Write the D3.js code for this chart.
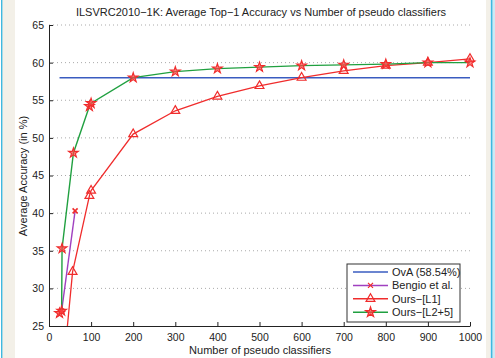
<!DOCTYPE html>
<html>
<head>
<meta charset="utf-8">
<script src="https://cdn.jsdelivr.net/npm/d3@7/dist/d3.min.js"></script>
<style>
  html, body { margin: 0; padding: 0; background: #fff; }
  svg { display: block; font-family: "Liberation Sans", Arial, sans-serif; }
</style>
</head>
<body>
<svg id="chart" width="495" height="358"></svg>
<script>
// values
const xTicks = [0, 100, 200, 300, 400, 500, 600, 700, 800, 900, 1000];
const yTicks = [25, 30, 35, 40, 45, 50, 55, 60, 65];

const ovaX = [25, 1000];
const ovaY = [58.0, 58.0];

const bengioX = [30, 62];
const bengioY = [27.0, 40.3];

const l1X = [25, 56, 96, 100, 200, 300, 400, 500, 600, 700, 800, 900, 1000];
const l1Y = [14.0, 32.2, 42.3, 43.0, 50.5, 53.6, 55.5, 56.9, 58.0, 58.9, 59.6, 60.0, 60.5];

const l25X = [25, 30, 31, 58, 96, 100, 200, 300, 400, 500, 600, 700, 800, 900, 1000];
const l25Y = [26.7, 27.0, 35.3, 48.0, 54.2, 54.6, 58.0, 58.8, 59.2, 59.4, 59.6, 59.7, 59.8, 60.0, 60.0];

const legendLabels = ['OvA (58.54%)', 'Bengio et al.', 'Ours\u2212[L1]', 'Ours\u2212[L2+5]'];

const svg = d3.select('#chart');
const W = 495, H = 358;

// frame strips at left/right edge
svg.append('rect').attr('x', 0).attr('y', 0).attr('width', W).attr('height', H).attr('fill', '#fff');
svg.append('rect').attr('x', 2).attr('y', 0).attr('width', 13).attr('height', H).attr('fill', '#f3f0e8');
svg.append('rect').attr('x', 1).attr('y', 0).attr('width', 1.4).attr('height', H).attr('fill', '#3fb8e0');
svg.append('rect').attr('x', 486).attr('y', 0).attr('width', 4).attr('height', H).attr('fill', '#f3f0e8');
svg.append('rect').attr('x', 490).attr('y', 0).attr('width', 5).attr('height', H).attr('fill', '#cde9f4');
svg.append('rect').attr('x', 491).attr('y', 0).attr('width', 1.4).attr('height', H).attr('fill', '#3fb8e0');

const x = d3.scaleLinear().domain([0, 1000]).range([49, 470]);
const y = d3.scaleLinear().domain([25, 65]).range([326, 25]);

svg.append('defs').append('clipPath').attr('id', 'plot')
  .append('rect').attr('x', 40).attr('y', 20).attr('width', 440).attr('height', 306);

// dotted grid
svg.append('g')
  .selectAll('line')
  .data(yTicks.slice(1))
  .enter()
  .append('line')
  .attr('x1', x(0)).attr('x2', x(1000))
  .attr('y1', d => y(d)).attr('y2', d => y(d))
  .attr('stroke', '#aaa').attr('stroke-width', 1)
  .attr('stroke-dasharray', '1,3');

// axes (MATLAB style, ticks inside, no box)
const xAxis = svg.append('g')
  .attr('transform', `translate(0,${y(25)})`)
  .call(d3.axisBottom(x).tickValues(xTicks).tickFormat(d3.format('d'))
    .tickSizeInner(-4).tickSizeOuter(0).tickPadding(8));
const yAxis = svg.append('g')
  .attr('transform', `translate(${x(0)},0)`)
  .call(d3.axisLeft(y).tickValues(yTicks).tickSizeInner(-4).tickSizeOuter(0).tickPadding(5));
[xAxis, yAxis].forEach(a => {
  a.selectAll('path, line').attr('stroke', '#222');
  a.selectAll('text').attr('fill', '#222').style('font-size', '10.5px')
    .style('font-family', '"Liberation Sans", Arial, sans-serif');
});

const line = (xs, ys) => d3.line().x((d, i) => x(xs[i])).y(d => y(d))(ys);

const plot = svg.append('g').attr('clip-path', 'url(#plot)');

const colors = { ova: '#3a5cc0', bengio: '#a040c0', l1: '#f02c2c', l25: '#20a040', mark: '#f02c2c' };

plot.append('path').attr('d', line(ovaX, ovaY)).attr('fill', 'none').attr('stroke', colors.ova).attr('stroke-width', 1.6);
plot.append('path').attr('d', line(bengioX, bengioY)).attr('fill', 'none').attr('stroke', colors.bengio).attr('stroke-width', 1.4);
plot.append('path').attr('d', line(l1X, l1Y)).attr('fill', 'none').attr('stroke', colors.l1).attr('stroke-width', 1.3);
plot.append('path').attr('d', line(l25X, l25Y)).attr('fill', 'none').attr('stroke', colors.l25).attr('stroke-width', 1.4);

const cross = d3.symbol().type(d3.symbolX).size(18);
const tri = d3.symbol().type(d3.symbolTriangle).size(34);
const star = d3.symbol().type(d3.symbolStar).size(30);

function markers(xs, ys, sym, fill, sw) {
  plot.append('g')
    .selectAll('path')
    .data(ys)
    .enter()
    .append('path')
    .attr('transform', (d, i) => `translate(${x(xs[i])},${y(d)})`)
    .attr('d', sym)
    .attr('fill', fill)
    .attr('stroke', colors.mark)
    .attr('stroke-width', sw);
}
markers(bengioX, bengioY, cross, 'none', 1.6);
markers(l1X, l1Y, tri, 'none', 1.2);
markers(l25X, l25Y, star, 'rgba(255,70,70,0.7)', 1.1);

// title and labels
svg.append('text').attr('x', 261).attr('y', 16).attr('text-anchor', 'middle')
  .style('font-size', '11px').attr('fill', '#222')
  .text('ILSVRC2010\u22121K: Average Top\u22121 Accuracy vs Number of pseudo classifiers');
svg.append('text').attr('x', 260).attr('y', 354).attr('text-anchor', 'middle')
  .style('font-size', '11px').attr('fill', '#222')
  .text('Number of pseudo classifiers');
svg.append('text').attr('transform', 'translate(27,176) rotate(-90)').attr('text-anchor', 'middle')
  .style('font-size', '11px').attr('fill', '#222')
  .text('Average Accuracy  (in %)');

// legend
const lg = svg.append('g');
lg.append('rect').attr('x', 347).attr('y', 264).attr('width', 113).attr('height', 58)
  .attr('fill', '#fff').attr('stroke', '#333').attr('stroke-width', 1);
const lgColors = [colors.ova, colors.bengio, colors.l1, colors.l25];
const lgSyms = [null, cross, tri, star];
legendLabels.forEach((lab, i) => {
  const ly = 272 + i * 13.4;
  lg.append('line').attr('x1', 353).attr('x2', 388).attr('y1', ly).attr('y2', ly)
    .attr('stroke', lgColors[i]).attr('stroke-width', 1.5);
  if (lgSyms[i]) {
    lg.append('path').attr('transform', `translate(370.5,${ly})`).attr('d', lgSyms[i])
      .attr('fill', i === 3 ? 'rgba(255,70,70,0.7)' : 'none')
      .attr('stroke', colors.mark).attr('stroke-width', 1.2);
  }
  lg.append('text').attr('x', 392).attr('y', ly + 4).style('font-size', '11px').attr('fill', '#222').text(lab);
});
</script>
</body>
</html>
